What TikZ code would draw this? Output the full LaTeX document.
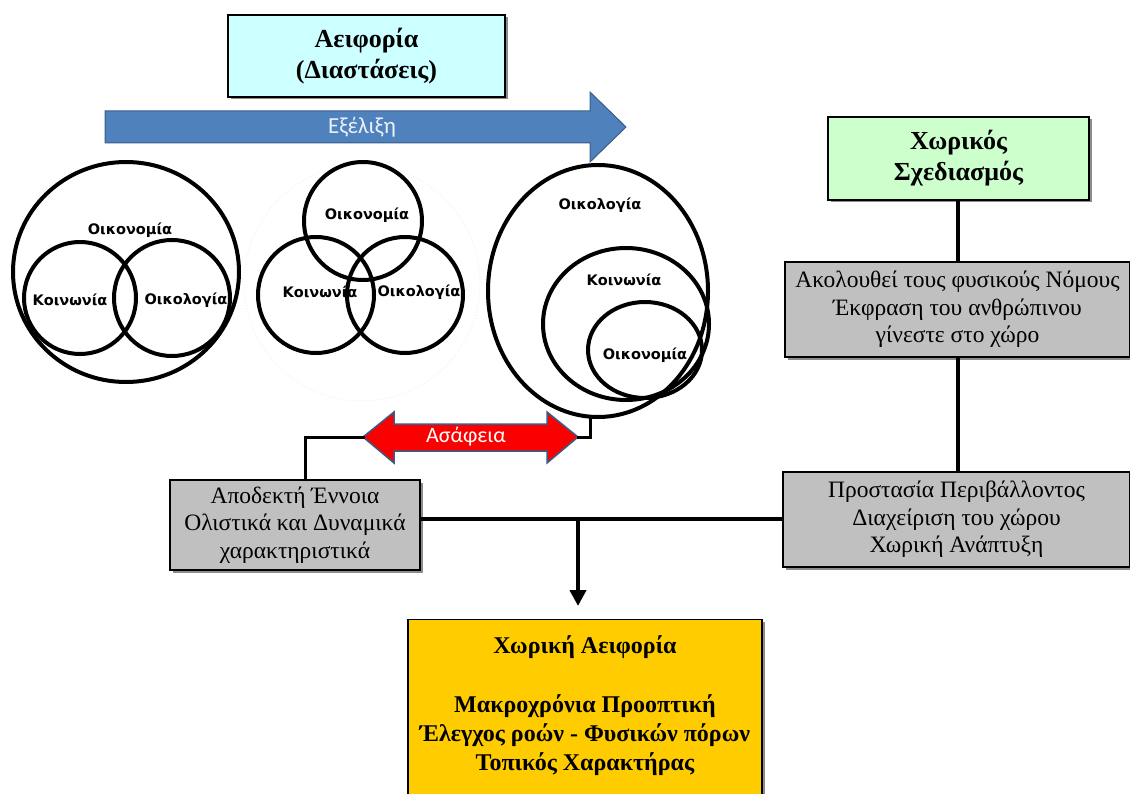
\documentclass[tikz,border=0pt]{standalone}
\usepackage{fontspec}
\setmainfont{Liberation Serif}
\newfontfamily\labelf{DejaVu Sans}
\newfontfamily\calibf{Carlito}
\usetikzlibrary{shadows,arrows.meta}
\definecolor{cyanbox}{RGB}{204,255,255}
\definecolor{greenbox}{RGB}{204,255,204}
\definecolor{graybox}{RGB}{192,192,192}
\definecolor{yellowbox}{RGB}{255,204,0}
\definecolor{bluearr}{RGB}{79,129,189}
\definecolor{bluedark}{RGB}{56,93,138}
\definecolor{redarr}{RGB}{250,0,0}
\begin{document}
\begin{tikzpicture}[x=1pt,y=-1pt,
  box/.style={draw=black, line width=1.3pt, align=center, inner sep=0pt,
    drop shadow={shadow xshift=2.5pt, shadow yshift=-2.5pt, opacity=0.45, fill=black}},
  titletext/.style={font=\fontsize{26}{31}\selectfont\bfseries},
  bodytext/.style={font=\fontsize{23.5}{27.5}\selectfont},
  conn/.style={draw=black, line width=4.5pt},
  thinconn/.style={draw=black, line width=3pt},
  ring/.style={draw=black, line width=4pt},
  clabel/.style={font=\labelf\bfseries\fontsize{14.5}{16}\selectfont, inner sep=1pt}
]
\useasboundingbox (0,0) rectangle (1130,794);
\clip (0,0) rectangle (1130,794);

% ---- top title box
\node[box, fill=cyanbox, minimum width=277pt, minimum height=82pt, titletext]
  (aei) at (366.5,56) {Αειφορία\\(Διαστάσεις)};

% ---- evolution arrow
\draw[fill=bluearr, draw=bluedark, line width=1pt]
  (105,111) -- (590,111) -- (590,92) -- (626,127) -- (590,162) -- (590,143) -- (105,143) -- cycle;
\node[font=\calibf\fontsize{23}{25}\selectfont, text=white!88!bluearr] (exel) at (362,127) {Εξέλιξη};

% ---- left diagram
\draw[ring] (126,272) ellipse (113pt and 110pt);
\draw[ring] (80,298) circle (56pt);
\draw[ring] (172,298) circle (58pt);
\node[clabel] (l1) at (130,230) {Οικονομία};
\node[clabel] (l2) at (70,300) {Κοινωνία};
\node[clabel] (l3) at (186,300) {Οικολογία};

% ---- middle diagram
\draw[gray!12, line width=1pt, dotted] (362,283) circle (118pt);
\draw[ring] (363,221) circle (59pt);
\draw[ring] (316,295) circle (58pt);
\draw[ring] (405,295) circle (58pt);
\node[clabel] (m1) at (367,215) {Οικονομία};
\node[clabel] (m2) at (320,292) {Κοινωνία};
\node[clabel] (m3) at (419,292) {Οικολογία};

% ---- right nested diagram
\draw[ring] (598,291) ellipse (110pt and 126pt);
\draw[ring] (626,324) ellipse (83pt and 76pt);
\draw[ring] (645,350) ellipse (57pt and 48pt);
\node[clabel] (r1) at (600,205) {Οικολογία};
\node[clabel] (r2) at (624,280) {Κοινωνία};
\node[clabel] (r3) at (645,355) {Οικονομία};
\coordinate (ecoB) at (590,416);

% ---- ambiguity double arrow
\draw[fill=redarr, draw=bluedark, line width=1.5pt]
  (363,437) -- (394,412) -- (394,424) -- (547,424) -- (547,412) -- (578,437)
  -- (547,463) -- (547,451) -- (394,451) -- (394,463) -- cycle;
\coordinate (asL) at (363,437);
\coordinate (asR) at (578,437);
\node[font=\calibf\fontsize{22}{24}\selectfont, text=white] (asaf) at (466,437) {Ασάφεια};

% ---- right column
\node[box, fill=greenbox, minimum width=261pt, minimum height=83pt, titletext]
  (xs) at (958.5,158.5) {Χωρικός\\Σχεδιασμός};
\node[box, fill=graybox, minimum width=345pt, minimum height=95pt, bodytext]
  (gm) at (957.5,309.5) {Ακολουθεί τους φυσικούς Νόμους\\Έκφραση του ανθρώπινου\\γίνεστε στο χώρο};
\node[box, fill=graybox, minimum width=347pt, minimum height=95pt, bodytext]
  (gr) at (956.5,519.5) {Προστασία Περιβάλλοντος\\Διαχείριση του χώρου\\Χωρική Ανάπτυξη};

% ---- left gray box
\node[box, fill=graybox, minimum width=250pt, minimum height=90pt, bodytext]
  (gl) at (295,525) {Αποδεκτή Έννοια\\Ολιστικά και Δυναμικά\\χαρακτηριστικά};

% ---- result box
\node[box, fill=yellowbox, minimum width=354pt, minimum height=186pt, anchor=north]
  (ya) at (585,619) {};
\node[font=\fontsize{24}{29}\selectfont\bfseries, align=center, anchor=north, inner sep=0pt]
  (yat) at (585,635) {Χωρική Αειφορία\\[30pt]Μακροχρόνια Προοπτική\\Έλεγχος ροών - Φυσικών πόρων\\Τοπικός Χαρακτήρας};

% ---- connectors
\draw[conn] (xs.south -| 958,0) -- (gm.north -| 958,0);
\draw[conn] (gm.south -| 958,0) -- (gr.north -| 958,0);
\draw[thinconn, line cap=rect] (asL) -| ([xshift=10pt]gl.north);
\draw[thinconn, line cap=rect] (asR) -| (ecoB);
\coordinate (jn) at (578,519);
\coordinate (jt) at (578,606);
\draw[conn] (gl.east |- jn) -- (gr.west |- jn);
\draw[conn, -{Triangle[length=16pt,width=16pt]}] (jn) -- (jt);
\end{tikzpicture}
\end{document}
